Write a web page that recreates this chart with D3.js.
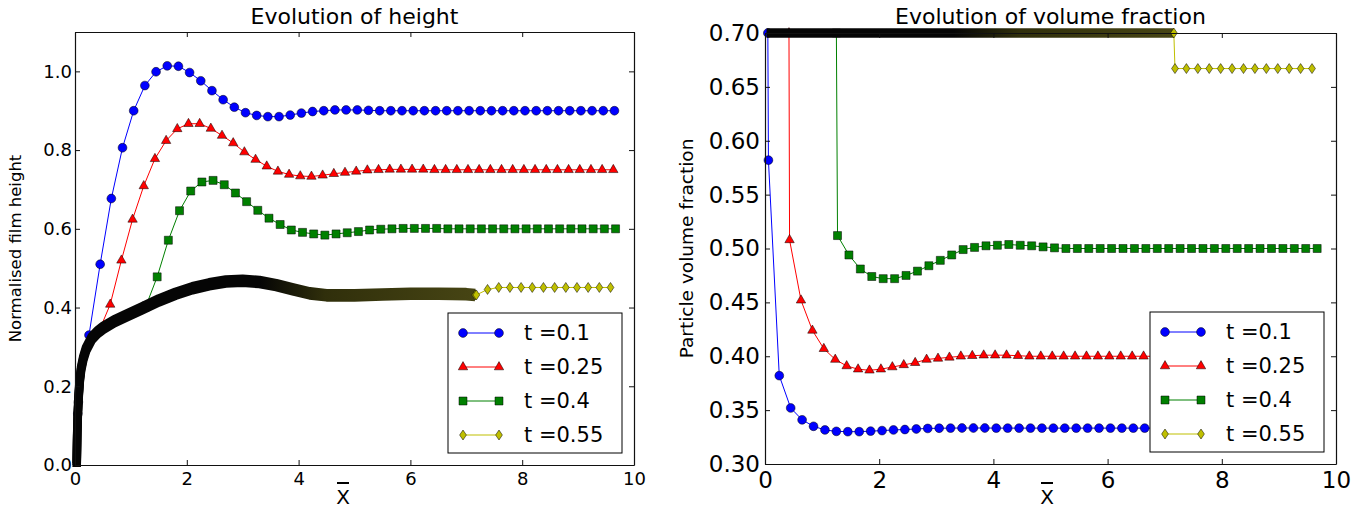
<!DOCTYPE html>
<html>
<head>
<meta charset="utf-8">
<script src="https://cdn.jsdelivr.net/npm/d3@7"></script>
<style>
  body { margin: 0; background: #fff; }
  svg { display: block; font-family: "DejaVu Sans", sans-serif; }
</style>
</head>
<body>
<svg id="chart" width="1370" height="512"></svg>
<script>
// values
const legendLabels = ["t =0.1", "t =0.25", "t =0.4", "t =0.55"];
const xTicks = [0, 2, 4, 6, 8, 10];
const heightTicks = [0.0, 0.2, 0.4, 0.6, 0.8, 1.0];
const fractionTicks = [0.30, 0.35, 0.40, 0.45, 0.50, 0.55, 0.60, 0.65, 0.70];

const blueX = [0.05, 0.06, 0.25, 0.45, 0.65, 0.85, 1.05, 1.25, 1.45, 1.65,
  1.85, 2.05, 2.25, 2.45, 2.65, 2.85, 3.05, 3.25, 3.45, 3.65,
  3.85, 4.05, 4.25, 4.45, 4.65, 4.85, 5.05, 5.25, 5.45, 5.65,
  5.85, 6.05, 6.25, 6.45, 6.65, 6.85, 7.05, 7.25, 7.45, 7.65,
  7.85, 8.05, 8.25, 8.45, 8.65, 8.85, 9.05, 9.25, 9.45, 9.65];
const blueHeight = [0.13, 0.16, 0.33, 0.51, 0.677, 0.806, 0.900, 0.964, 0.999, 1.014,
  1.013, 0.997, 0.976, 0.951, 0.928, 0.909, 0.895, 0.888, 0.885, 0.885,
  0.889, 0.894, 0.898, 0.900, 0.902, 0.902, 0.902, 0.901, 0.900, 0.900,
  0.900, 0.900, 0.900, 0.900, 0.900, 0.900, 0.900, 0.900, 0.900, 0.900,
  0.900, 0.900, 0.900, 0.900, 0.900, 0.900, 0.900, 0.900, 0.900, 0.900];
const blueFraction = [0.700, 0.582, 0.382, 0.352, 0.341, 0.335, 0.3316, 0.3303, 0.3300, 0.3300,
  0.3305, 0.3310, 0.3316, 0.3320, 0.3325, 0.3330, 0.3332, 0.3333, 0.3334, 0.3334,
  0.3334, 0.3333, 0.3333, 0.3333, 0.3333, 0.3333, 0.3333, 0.3333, 0.3333, 0.3333,
  0.3333, 0.3333, 0.3333, 0.3333, 0.3333, 0.3333, 0.3333, 0.3333, 0.3333, 0.3333,
  0.3333, 0.3333, 0.3333, 0.3333, 0.3333, 0.3333, 0.3333, 0.3333, 0.3333, 0.3333];

const redX = [0.42, 0.43, 0.63, 0.83, 1.03, 1.23, 1.43, 1.63, 1.83, 2.03,
  2.23, 2.43, 2.63, 2.83, 3.03, 3.23, 3.43, 3.63, 3.83, 4.03,
  4.23, 4.43, 4.63, 4.83, 5.03, 5.23, 5.43, 5.63, 5.83, 6.03,
  6.23, 6.43, 6.63, 6.83, 7.03, 7.23, 7.43, 7.63, 7.83, 8.03,
  8.23, 8.43, 8.63, 8.83, 9.03, 9.23, 9.43, 9.63];
const redHeight = [0.338, 0.340, 0.408, 0.520, 0.624, 0.709, 0.778, 0.824, 0.854, 0.867,
  0.867, 0.855, 0.837, 0.818, 0.795, 0.776, 0.759, 0.746, 0.738, 0.734,
  0.733, 0.736, 0.740, 0.743, 0.746, 0.749, 0.750, 0.751, 0.751, 0.751,
  0.751, 0.750, 0.750, 0.750, 0.750, 0.750, 0.750, 0.750, 0.750, 0.750,
  0.750, 0.750, 0.750, 0.750, 0.750, 0.750, 0.750, 0.750];
const redFraction = [0.700, 0.508, 0.452, 0.424, 0.407, 0.397, 0.391, 0.388, 0.387, 0.388,
  0.390, 0.392, 0.394, 0.397, 0.398, 0.399, 0.400, 0.4005, 0.401, 0.401,
  0.401, 0.4005, 0.400, 0.400, 0.400, 0.400, 0.400, 0.400, 0.400, 0.400,
  0.400, 0.400, 0.400, 0.400, 0.400, 0.400, 0.400, 0.400, 0.400, 0.400,
  0.400, 0.400, 0.400, 0.400, 0.400, 0.400, 0.400, 0.400];

const greenX = [1.25, 1.27, 1.47, 1.67, 1.87, 2.07, 2.27, 2.47, 2.67, 2.87,
  3.07, 3.27, 3.47, 3.67, 3.87, 4.07, 4.27, 4.47, 4.67, 4.87,
  5.07, 5.27, 5.47, 5.67, 5.87, 6.07, 6.27, 6.47, 6.67, 6.87,
  7.07, 7.27, 7.47, 7.67, 7.87, 8.07, 8.27, 8.47, 8.67, 8.87,
  9.07, 9.27, 9.47, 9.67];
const greenHeight = [0.400, 0.404, 0.478, 0.571, 0.646, 0.696, 0.719, 0.723, 0.712, 0.691,
  0.669, 0.647, 0.627, 0.611, 0.597, 0.591, 0.587, 0.584, 0.587, 0.590,
  0.593, 0.597, 0.599, 0.600, 0.601, 0.601, 0.601, 0.601, 0.600, 0.600,
  0.600, 0.600, 0.600, 0.600, 0.600, 0.600, 0.600, 0.600, 0.600, 0.600,
  0.600, 0.600, 0.600, 0.600];
const greenFraction = [0.700, 0.512, 0.494, 0.481, 0.474, 0.472, 0.472, 0.475, 0.479, 0.484,
  0.489, 0.494, 0.499, 0.501, 0.5025, 0.503, 0.5037, 0.503, 0.5025, 0.5015,
  0.5006, 0.500, 0.500, 0.500, 0.500, 0.500, 0.500, 0.500, 0.500, 0.500,
  0.500, 0.500, 0.500, 0.500, 0.500, 0.500, 0.500, 0.500, 0.500, 0.500,
  0.500, 0.500, 0.500, 0.500];

// t = 0.55: densely packed part (drawn as a dark band) and the sparse tail
const bandX = [0.03, 0.035, 0.04, 0.05, 0.065, 0.085, 0.11, 0.15, 0.2, 0.3,
  0.4, 0.5, 0.7, 0.9, 1.2, 1.5, 1.8, 2.1, 2.4, 2.7,
  3.0, 3.3, 3.6, 3.9, 4.2, 4.5, 5.0, 5.5, 6.0, 6.5,
  7.0, 7.16];
const bandHeight = [0, 0.04, 0.08, 0.13, 0.175, 0.215, 0.245, 0.272, 0.295, 0.322,
  0.337, 0.348, 0.365, 0.378, 0.398, 0.418, 0.435, 0.449, 0.459, 0.466,
  0.468, 0.465, 0.457, 0.446, 0.436, 0.431, 0.431, 0.433, 0.435, 0.435,
  0.434, 0.432];
const bandFraction = [0.70, 0.70, 0.70, 0.70, 0.70, 0.70, 0.70, 0.70, 0.70, 0.70,
  0.70, 0.70, 0.70, 0.70, 0.70, 0.70, 0.70, 0.70, 0.70, 0.70,
  0.70, 0.70, 0.70, 0.70, 0.70, 0.70, 0.70, 0.70, 0.70, 0.70,
  0.70, 0.70];
const yellowX = [7.18, 7.38, 7.58, 7.78, 7.98, 8.18, 8.38, 8.58, 8.78, 8.98, 9.18, 9.38, 9.58];
const yellowHeight = [0.432, 0.446, 0.451, 0.451, 0.451, 0.451, 0.451, 0.451, 0.451, 0.451, 0.451, 0.451, 0.451];
const yellowFraction = [0.667, 0.667, 0.667, 0.667, 0.667, 0.667, 0.667, 0.667, 0.667, 0.667, 0.667, 0.667, 0.667];

const series = [
  { color: "#0000ff", marker: "circle", x: blueX, height: blueHeight, fraction: blueFraction },
  { color: "#ff0000", marker: "triangle", x: redX, height: redHeight, fraction: redFraction },
  { color: "#008000", marker: "square", x: greenX, height: greenHeight, fraction: greenFraction },
  { color: "#bfbf00", marker: "diamond", x: yellowX, height: yellowHeight, fraction: yellowFraction,
    bandX: bandX, bandHeight: bandHeight, bandFraction: bandFraction }
];

const markerPaths = {
  circle: d3.symbol(d3.symbolCircle, Math.PI * 4.4 * 4.4)(),
  triangle: "M0,-5.4L4.7,2.8L-4.7,2.8Z",
  square: "M-4,-4H4V4H-4Z",
  diamond: "M0,-5L3.4,0L0,5L-3.4,0Z"
};

const panels = [
  { id: "height", left: 75, right: 634, top: 32, bottom: 465, yDomain: [0, 1.1], yTicks: heightTicks,
    yFormat: ".1f", tickFont: 18, yPad: 3, xPad: 7, bandWidth: 8.6, bandShift: 2,
    title: "Evolution of height", yLabel: "Normalised film height", yLabelX: 21, yLabelFont: 16.5, xLabelX: 343 },
  { id: "fraction", left: 765, right: 1336, top: 33, bottom: 464, yDomain: [0.30, 0.70], yTicks: fractionTicks,
    yFormat: ".2f", tickFont: 23, yPad: 5, xPad: 8, bandWidth: 6, bandShift: 1.8,
    title: "Evolution of volume fraction", yLabel: "Particle volume fraction", yLabelX: 693, yLabelFont: 18.5, xLabelX: 1047 }
];

const svg = d3.select("#chart");
const defs = svg.append("defs");

function drawMarkers(g, pts, x, y, s) {
  g.selectAll(null).data(pts).join("path")
    .attr("transform", d => `translate(${x(d[0])},${y(d[1])})`)
    .attr("d", markerPaths[s.marker])
    .attr("fill", s.color)
    .attr("stroke", "#000")
    .attr("stroke-width", 0.5);
}

panels.forEach(p => {
  const x = d3.scaleLinear().domain([0, 10]).range([p.left, p.right]);
  const y = d3.scaleLinear().domain(p.yDomain).range([p.bottom, p.top]);
  const g = svg.append("g");
  const line = d3.line().x(d => x(d[0])).y(d => y(d[1]));

  const grad = defs.append("linearGradient").attr("id", "band-" + p.id)
    .attr("gradientUnits", "userSpaceOnUse")
    .attr("x1", x(3.3)).attr("x2", x(7.2)).attr("y1", 0).attr("y2", 0);
  grad.append("stop").attr("offset", 0).attr("stop-color", "#050505");
  grad.append("stop").attr("offset", 0.3).attr("stop-color", "#302f0b");
  grad.append("stop").attr("offset", 1).attr("stop-color", "#474514");

  series.forEach(s => {
    const pts = s.x.map((v, i) => [v, s[p.id][i]]);
    if (s.bandX) {
      const band = s.bandX.map((v, i) => [v, s[p.id === "height" ? "bandHeight" : "bandFraction"][i]]);
      g.append("path").datum(band.concat(pts)).attr("d", line)
        .attr("fill", "none").attr("stroke", s.color).attr("stroke-width", 1);
      // overlapping diamond markers: narrow sideways, taller vertically
      [-p.bandShift, 0, p.bandShift].forEach(dy => {
        g.append("path").datum(band).attr("d", line)
          .attr("transform", `translate(0,${dy})`)
          .attr("fill", "none").attr("stroke", `url(#band-${p.id})`)
          .attr("stroke-width", p.bandWidth).attr("stroke-linejoin", "round");
      });
      drawMarkers(g, [band[band.length - 1]].concat(pts), x, y, s);
    } else {
      g.append("path").datum(pts).attr("d", line)
        .attr("fill", "none").attr("stroke", s.color).attr("stroke-width", 1);
      drawMarkers(g, pts, x, y, s);
    }
  });

  // frame with inward ticks on all sides
  const styleAxis = a => {
    a.attr("font-family", "DejaVu Sans, sans-serif").attr("font-size", p.tickFont);
    a.select(".domain").attr("stroke", "#111").attr("stroke-width", 1.2);
    a.selectAll(".tick line").attr("stroke", "#111");
    a.selectAll(".tick text").attr("fill", "#000");
  };
  g.append("g").attr("transform", `translate(0,${p.bottom})`)
    .call(d3.axisBottom(x).tickValues(xTicks).tickFormat(d3.format("d")).tickSizeInner(-5).tickSizeOuter(0).tickPadding(p.xPad))
    .call(styleAxis);
  g.append("g").attr("transform", `translate(0,${p.top})`)
    .call(d3.axisTop(x).tickValues(xTicks).tickFormat("").tickSizeInner(-5).tickSizeOuter(0))
    .call(styleAxis);
  g.append("g").attr("transform", `translate(${p.left},0)`)
    .call(d3.axisLeft(y).tickValues(p.yTicks).tickFormat(d3.format(p.yFormat)).tickSizeInner(-5).tickSizeOuter(0).tickPadding(p.yPad))
    .call(styleAxis);
  g.append("g").attr("transform", `translate(${p.right},0)`)
    .call(d3.axisRight(y).tickValues(p.yTicks).tickFormat("").tickSizeInner(-5).tickSizeOuter(0))
    .call(styleAxis);

  // titles and labels
  g.append("text").attr("x", (p.left + p.right) / 2).attr("y", 24)
    .attr("text-anchor", "middle").attr("font-size", 22).text(p.title);
  g.append("text").attr("transform", `translate(${p.yLabelX},${(p.top + p.bottom) / 2}) rotate(-90)`)
    .attr("text-anchor", "middle").attr("font-size", p.yLabelFont).text(p.yLabel);
  g.append("text").attr("x", p.xLabelX).attr("y", 504)
    .attr("text-anchor", "middle").attr("font-size", 20).text("X");
  g.append("line").attr("x1", p.xLabelX - 6).attr("x2", p.xLabelX + 6)
    .attr("y1", 483).attr("y2", 483).attr("stroke", "#000").attr("stroke-width", 2);

  // legend
  const lg = g.append("g").attr("transform", `translate(${p.right - 186},${p.bottom - 152})`);
  lg.append("rect").attr("width", 174).attr("height", 140)
    .attr("fill", "#fff").attr("stroke", "#000").attr("stroke-width", 1);
  series.forEach((s, i) => {
    const ly = 20 + 34 * i;
    lg.append("line").attr("x1", 15).attr("x2", 51).attr("y1", ly).attr("y2", ly)
      .attr("stroke", s.color).attr("stroke-width", 1);
    lg.selectAll(null).data([15, 51]).join("path")
      .attr("transform", d => `translate(${d},${ly})`)
      .attr("d", markerPaths[s.marker]).attr("fill", s.color)
      .attr("stroke", "#000").attr("stroke-width", 0.5);
    lg.append("text").attr("x", 76).attr("y", ly).attr("dy", "0.35em")
      .attr("font-size", 21).text(legendLabels[i]);
  });
});
</script>
</body>
</html>
